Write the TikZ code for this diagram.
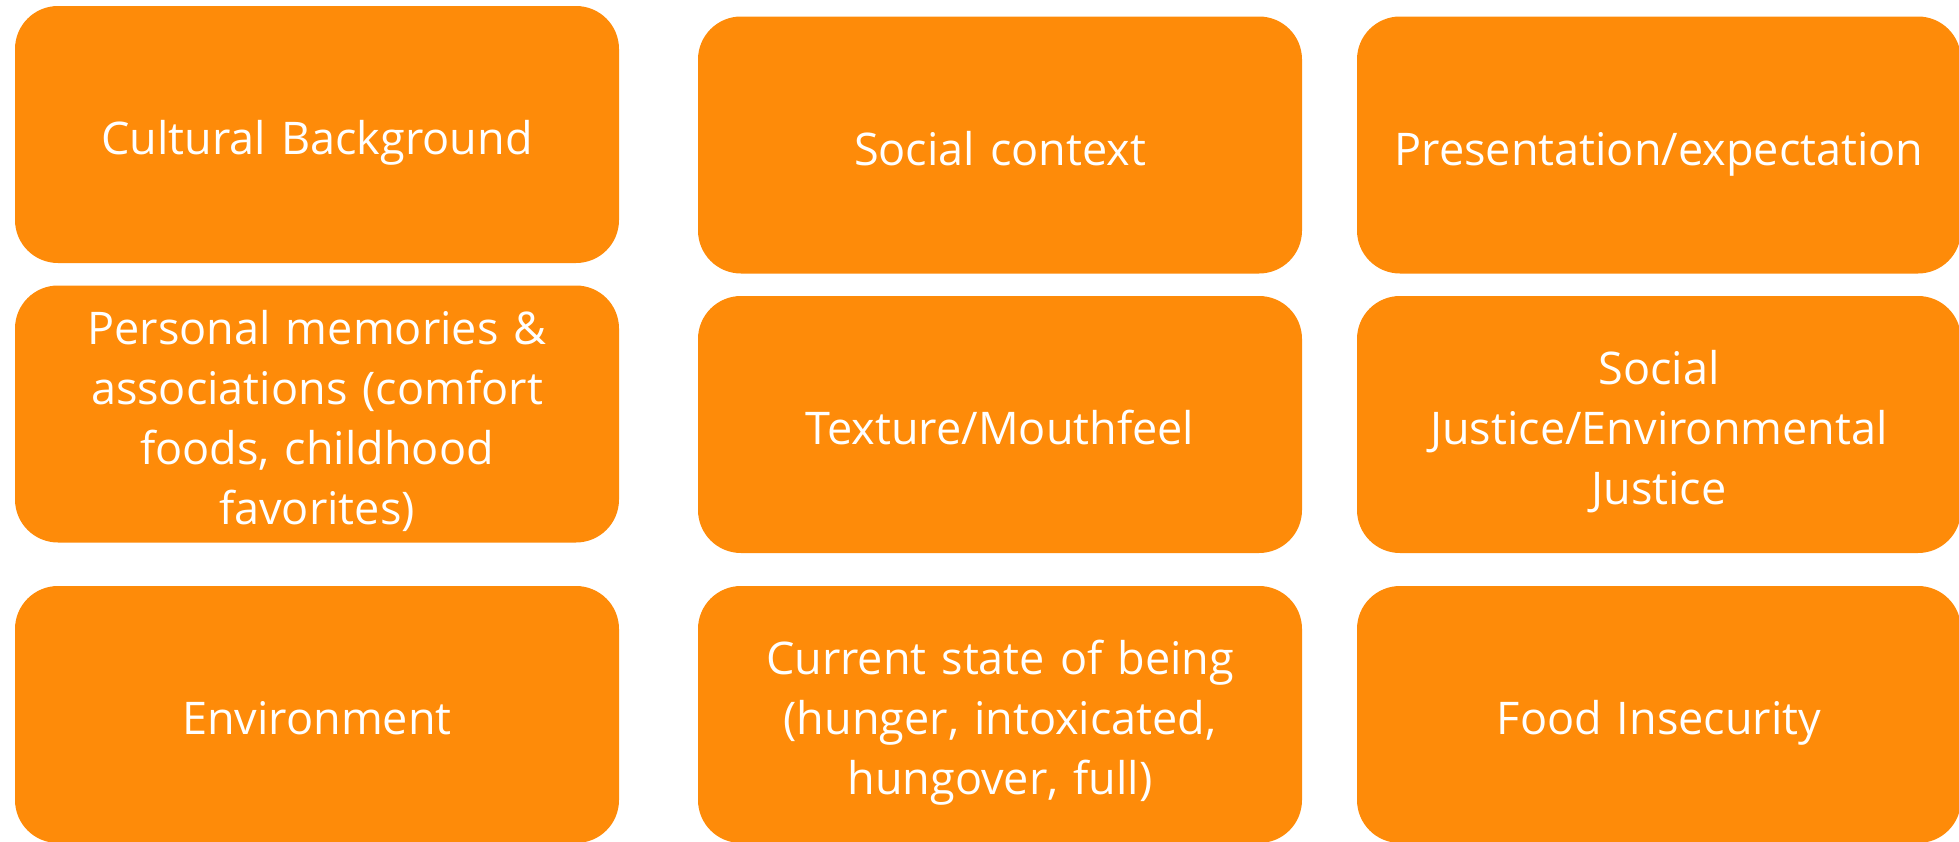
\documentclass[tikz,border=0pt]{standalone}
\usepackage{fontspec}
\setmainfont{Open Sans}
\definecolor{tileorange}{RGB}{254,139,9}
% fixed height for the first line and depth for the last line of a tile text
\newcommand{\tiletop}{\rule{0pt}{51pt}}
\newcommand{\tilebot}{\rule[-11pt]{0pt}{11pt}}
\begin{document}
\begin{tikzpicture}[x=1pt,y=-1pt,
  tile/.style={fill=tileorange, draw=none, rounded corners=43pt,
    minimum width=604pt, minimum height=257pt, inner sep=0pt,
    text=white, align=center, text width=570pt,
    font=\fontsize{45}{60}\selectfont,
    execute at begin node=\tiletop, execute at end node=\tilebot}]
  \useasboundingbox (0,0) rectangle (1959,841);
  \clip (0,0) rectangle (1959,841);
  % left column
  \node[tile] (cult) at (317,134.5) {Cultural Background};
  \node[tile] (pers) at (317,414) {Personal memories \&\\associations (comfort\\foods, childhood\\favorites)};
  \node[tile] (envi) at (317,714.5) {Environment};
  % middle column
  \node[tile] (soci) at (1000,145) {Social context};
  \node[tile] (text) at (1000,424.5) {Texture/Mouthfeel};
  \node[tile] (curr) at (1000,714.5) {Current state of being\\(hunger, intoxicated,\\hungover, full)};
  % right column
  \node[tile] (pres) at (1659,145) {Presentation/expectation};
  \node[tile] (just) at (1659,424.5) {Social\\Justice/Environmental\\Justice};
  \node[tile] (food) at (1659,714.5) {Food Insecurity};
\end{tikzpicture}
\end{document}
